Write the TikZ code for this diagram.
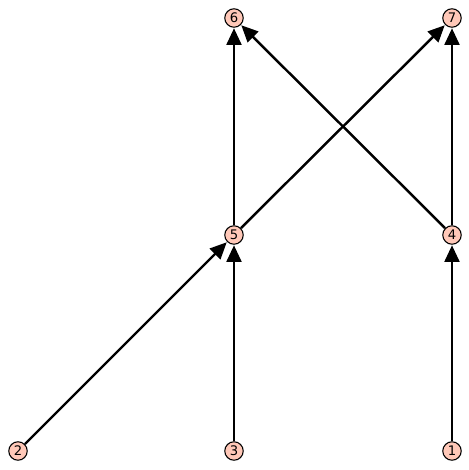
\documentclass[tikz,border=0pt]{standalone}
\usepackage{fontspec}
\setsansfont{DejaVu Sans}
\usetikzlibrary{arrows.meta}
\definecolor{vfill}{RGB}{255,200,184}

\begin{document}
\begin{tikzpicture}[x=0.02cm, y=0.02cm, >={Triangle[length=9.5pt, width=8.5pt]},
  vert/.style={circle, draw, fill=vfill, inner sep=0pt, minimum size=10.5pt, line width=0.6pt, font=\sffamily\fontsize{7.5}{8}\selectfont},
  edge/.style={->, line width=1.4pt, shorten >=0.3pt}]
  \useasboundingbox (0,0) rectangle (469,470);
  % vertices
  \node[vert] (v6) at (234,452) {6};
  \node[vert] (v7) at (452,452) {7};
  \node[vert] (v5) at (234,235) {5};
  \node[vert] (v4) at (452,235) {4};
  \node[vert] (v2) at (18,19) {2};
  \node[vert] (v3) at (234,19) {3};
  \node[vert] (v1) at (452,19) {1};
  % edges
  \draw[edge] (v2) -- (v5);
  \draw[edge] (v3) -- (v5);
  \draw[edge] (v1) -- (v4);
  \draw[edge] (v5) -- (v6);
  \draw[edge] (v5) -- (v7);
  \draw[edge] (v4) -- (v6);
  \draw[edge] (v4) -- (v7);
\end{tikzpicture}
\end{document}
